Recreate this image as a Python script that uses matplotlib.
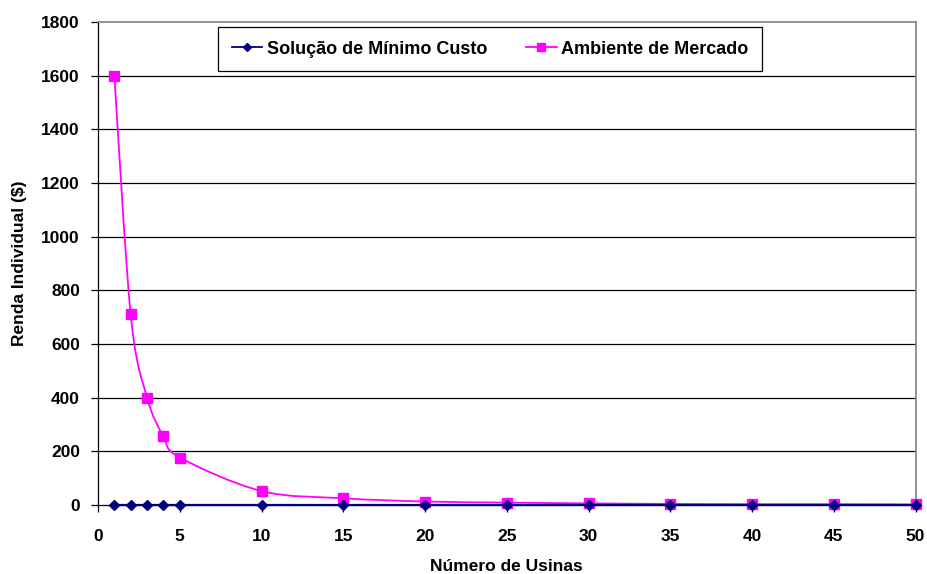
import matplotlib
matplotlib.use("Agg")
import matplotlib.pyplot as plt
from matplotlib.path import Path
from matplotlib.patches import PathPatch
import numpy as np

x_usinas = [1, 2, 3, 4, 5, 10, 15, 20, 25, 30, 35, 40, 45, 50]
minimo_custo = [0, 0, 0, 0, 0, 0, 0, 0, 0, 0, 0, 0, 0, 0]
mercado = [1600, 710, 400, 256, 177, 52, 25, 13, 9, 6, 4, 3, 3, 2]

x_ticks = [0, 5, 10, 15, 20, 25, 30, 35, 40, 45, 50]
y_ticks = [0, 200, 400, 600, 800, 1000, 1200, 1400, 1600, 1800]

label_min = "Solução de Mínimo Custo"
label_mer = "Ambiente de Mercado"
xlabel = "Número de Usinas"
ylabel = "Renda Individual ($)"

plt.rcParams['font.family'] = ['Liberation Sans', 'DejaVu Sans']
plt.rcParams['font.weight'] = 'bold'

fig = plt.figure(figsize=(9.27, 5.74), dpi=100)
ax = fig.add_axes([98/927, 1-505/574, (915.5-98)/927, (505-22)/574])

ax.set_xlim(0, 50)
ax.set_ylim(0, 1800)

for yv in y_ticks[1:-1]:
    ax.axhline(yv, color='#000000', lw=0.9, zorder=1)


def smooth_path(xs, ys):
    xs = np.asarray(xs, float)
    ys = np.asarray(ys, float)
    pts = np.column_stack([xs, ys])
    n = len(pts)
    verts = [pts[0]]
    codes = [Path.MOVETO]
    for i in range(n - 1):
        p0 = pts[i - 1] if i > 0 else pts[i]
        p1 = pts[i]
        p2 = pts[i + 1]
        p3 = pts[i + 2] if i + 2 < n else pts[i + 1]
        c1 = p1 + (p2 - p0) / 6.0
        c2 = p2 - (p3 - p1) / 6.0
        verts += [c1, c2, p2]
        codes += [Path.CURVE4] * 3
    return Path(verts, codes)


ax.add_patch(PathPatch(smooth_path(x_usinas, mercado), fill=False,
                       edgecolor='#FF00FF', lw=1.3, zorder=3))
ax.plot(x_usinas, mercado, ls='none', marker='s', ms=7, color='#FF00FF',
        mec='#FF00FF', zorder=4, clip_on=False)
ax.plot(x_usinas, minimo_custo, '-', marker='D', ms=5, color='#000080',
        lw=1.6, zorder=5, clip_on=False)

# legend proxies
h1, = ax.plot([], [], '-', marker='D', ms=4.5, color='#000080', lw=1.3)
h2, = ax.plot([], [], '-', marker='s', ms=6, color='#FF00FF', lw=1.3)
x0 = (218 - 98) / 817.5
w = (762 - 218) / 817.5
y0 = (505 - 70) / 483
h = (70 - 27) / 483
leg = ax.legend([h1, h2], [label_min, label_mer], ncol=2,
                loc='upper left', bbox_to_anchor=(x0, y0, w, h), mode='expand',
                fancybox=False, edgecolor='black', framealpha=1,
                prop={'size': 13, 'weight': 'bold'},
                handlelength=1.7, handletextpad=0.25, columnspacing=1.0,
                borderpad=0.75, borderaxespad=0)
leg.get_frame().set_linewidth(0.9)
leg.set_zorder(10)

ax.set_xticks(x_ticks)
ax.set_yticks(y_ticks)
ax.tick_params(axis='both', direction='out', length=5, width=0.9,
               labelsize=12.5)
ax.tick_params(axis='x', pad=12)
ax.tick_params(axis='y', pad=8)
for lab in ax.get_xticklabels() + ax.get_yticklabels():
    lab.set_fontweight('bold')

for s in ['top', 'right']:
    ax.spines[s].set_color('#808080')
    ax.spines[s].set_linewidth(1.2)
for s in ['left', 'bottom']:
    ax.spines[s].set_color('black')
    ax.spines[s].set_linewidth(0.9)

ax.set_xlabel(xlabel, fontsize=12.5, fontweight='bold', labelpad=11)
ax.set_ylabel(ylabel, fontsize=12.5, fontweight='bold', labelpad=10)

fig.savefig("out.png", dpi=100)
